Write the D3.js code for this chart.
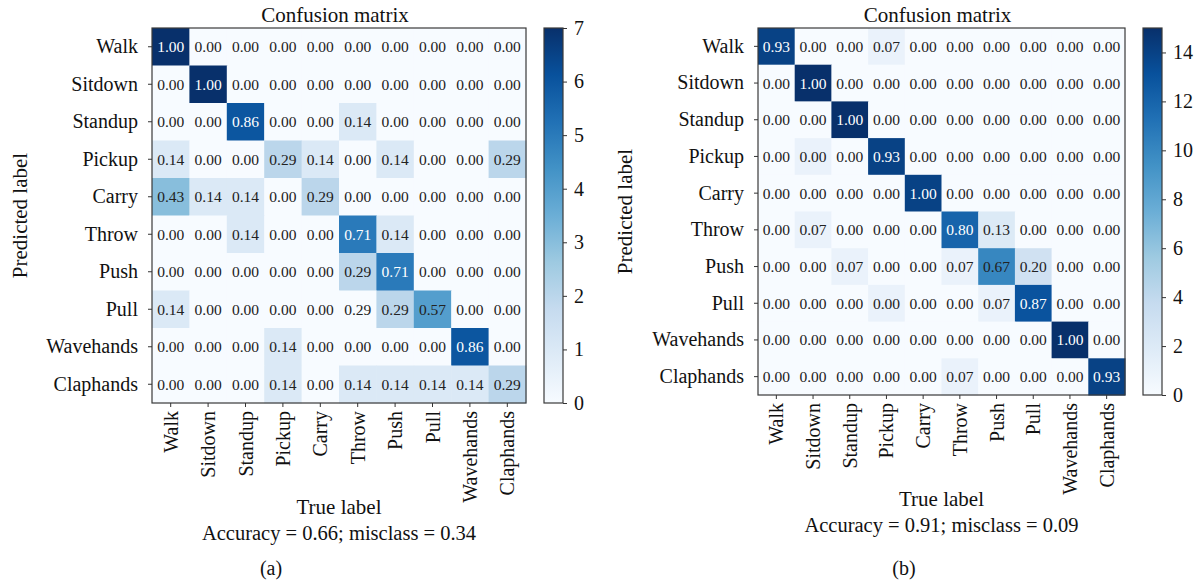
<!DOCTYPE html>
<html lang="en">
<head>
    <meta charset="UTF-8">
    <title>Confusion matrices</title>
    <script src="https://cdn.jsdelivr.net/npm/d3@7"></script>
    <style>
        body {
            margin: 0;
            background: #fff;
            font-family: "Liberation Serif", "DejaVu Serif", serif;
        }
    </style>
</head>
<body>
    <div id="chart"></div>

    <script>
        // class names (rows = predicted, columns = true)
        const classes = ["Walk", "Sitdown", "Standup", "Pickup", "Carry",
                         "Throw", "Push", "Pull", "Wavehands", "Claphands"];

        // (a) counts used for cell colour
        const countsA = [
            [7, 0, 0, 0, 0, 0, 0, 0, 0, 0],
            [0, 7, 0, 0, 0, 0, 0, 0, 0, 0],
            [0, 0, 6, 0, 0, 1, 0, 0, 0, 0],
            [1, 0, 0, 2, 1, 0, 1, 0, 0, 2],
            [3, 1, 1, 0, 2, 0, 0, 0, 0, 0],
            [0, 0, 1, 0, 0, 5, 1, 0, 0, 0],
            [0, 0, 0, 0, 0, 2, 5, 0, 0, 0],
            [1, 0, 0, 0, 0, 0, 2, 4, 0, 0],
            [0, 0, 0, 1, 0, 0, 0, 0, 6, 0],
            [0, 0, 0, 1, 0, 1, 1, 1, 1, 2]
        ];
        // (a) values printed in the cells
        const shownA = [
            [1.00, 0, 0, 0, 0, 0, 0, 0, 0, 0],
            [0, 1.00, 0, 0, 0, 0, 0, 0, 0, 0],
            [0, 0, 0.86, 0, 0, 0.14, 0, 0, 0, 0],
            [0.14, 0, 0, 0.29, 0.14, 0, 0.14, 0, 0, 0.29],
            [0.43, 0.14, 0.14, 0, 0.29, 0, 0, 0, 0, 0],
            [0, 0, 0.14, 0, 0, 0.71, 0.14, 0, 0, 0],
            [0, 0, 0, 0, 0, 0.29, 0.71, 0, 0, 0],
            [0.14, 0, 0, 0, 0, 0.29, 0.29, 0.57, 0, 0],
            [0, 0, 0, 0.14, 0, 0, 0, 0, 0.86, 0],
            [0, 0, 0, 0.14, 0, 0.14, 0.14, 0.14, 0.14, 0.29]
        ];
        const ticksA = [0, 1, 2, 3, 4, 5, 6, 7];
        const maxA = 7;

        // (b)
        const countsB = [
            [14, 0, 0, 1, 0, 0, 0, 0, 0, 0],
            [0, 15, 0, 0, 0, 0, 0, 0, 0, 0],
            [0, 0, 15, 0, 0, 0, 0, 0, 0, 0],
            [0, 1, 0, 14, 0, 0, 0, 0, 0, 0],
            [0, 0, 0, 0, 14, 0, 0, 0, 0, 0],
            [0, 1, 0, 0, 0, 12, 2, 0, 0, 0],
            [0, 0, 1, 0, 0, 1, 10, 3, 0, 0],
            [0, 0, 0, 1, 0, 0, 1, 13, 0, 0],
            [0, 0, 0, 0, 0, 0, 0, 0, 15, 0],
            [0, 0, 0, 0, 0, 1, 0, 0, 0, 14]
        ];
        const shownB = [
            [0.93, 0, 0, 0.07, 0, 0, 0, 0, 0, 0],
            [0, 1.00, 0, 0, 0, 0, 0, 0, 0, 0],
            [0, 0, 1.00, 0, 0, 0, 0, 0, 0, 0],
            [0, 0, 0, 0.93, 0, 0, 0, 0, 0, 0],
            [0, 0, 0, 0, 1.00, 0, 0, 0, 0, 0],
            [0, 0.07, 0, 0, 0, 0.80, 0.13, 0, 0, 0],
            [0, 0, 0.07, 0, 0, 0.07, 0.67, 0.20, 0, 0],
            [0, 0, 0, 0, 0, 0, 0.07, 0.87, 0, 0],
            [0, 0, 0, 0, 0, 0, 0, 0, 1.00, 0],
            [0, 0, 0, 0, 0, 0.07, 0, 0, 0, 0.93]
        ];
        const ticksB = [0, 2, 4, 6, 8, 10, 12, 14];
        const maxB = 15;

        const accuracyA = "Accuracy = 0.66; misclass = 0.34";
        const accuracyB = "Accuracy = 0.91; misclass = 0.09";

        const width = 1202;
        const height = 582;
        const blues = d3.schemeBlues[9];

        const svg = d3.select("#chart")
            .append("svg")
            .attr("width", width)
            .attr("height", height)
            .style("display", "block");

        svg.append("rect")
            .attr("width", width)
            .attr("height", height)
            .attr("fill", "#fff");

        // matplotlib-like "Blues": linear between the 9 brewer stops
        function blueScale(vmax) {
            return d3.scaleLinear()
                .domain(d3.range(9).map(i => vmax * i / 8))
                .range(blues)
                .interpolate(d3.interpolateRgb);
        }

        function drawPanel(opt) {
            const g = svg.append("g");
            const color = blueScale(opt.vmax);

            const x = d3.scaleBand().domain(classes).range([opt.left, opt.right]);
            const y = d3.scaleBand().domain(classes).range([opt.top, opt.bottom]);
            const cx = (opt.left + opt.right) / 2;
            const cy = (opt.top + opt.bottom) / 2;

            const cells = [];
            opt.counts.forEach((row, i) => row.forEach((c, j) => {
                cells.push({ row: classes[i], col: classes[j], count: c, shown: opt.shown[i][j] });
            }));

            g.selectAll("rect.cell")
                .data(cells)
                .enter()
                .append("rect")
                .attr("class", "cell")
                .attr("x", d => x(d.col))
                .attr("y", d => y(d.row))
                .attr("width", x.bandwidth() + 0.5)
                .attr("height", y.bandwidth() + 0.5)
                .attr("fill", d => color(d.count));

            g.selectAll("text.val")
                .data(cells)
                .enter()
                .append("text")
                .attr("class", "val")
                .attr("x", d => x(d.col) + x.bandwidth() / 2)
                .attr("y", d => y(d.row) + y.bandwidth() / 2)
                .attr("text-anchor", "middle")
                .attr("dominant-baseline", "central")
                .attr("font-size", 15.5)
                .attr("fill", d => d.count > opt.vmax / 1.5 ? "#fff" : "#222")
                .text(d => d.shown.toFixed(2));

            // frame
            g.append("rect")
                .attr("x", opt.left)
                .attr("y", opt.top)
                .attr("width", opt.right - opt.left)
                .attr("height", opt.bottom - opt.top)
                .attr("fill", "none")
                .attr("stroke", "#3a3a3a")
                .attr("stroke-width", 1.2);

            // y axis
            const yAxis = g.append("g")
                .attr("transform", `translate(${opt.left},0)`)
                .call(d3.axisLeft(y).tickSize(4).tickPadding(10));
            yAxis.select(".domain").remove();
            yAxis.selectAll("line").attr("stroke", "#333");
            yAxis.selectAll("text")
                .attr("font-size", 20)
                .attr("font-family", "Liberation Serif")
                .attr("fill", "#111");

            // x axis, labels vertical
            const xAxis = g.append("g")
                .attr("transform", `translate(0,${opt.bottom})`)
                .call(d3.axisBottom(x).tickSize(4).tickPadding(8));
            xAxis.select(".domain").remove();
            xAxis.selectAll("line").attr("stroke", "#333");
            xAxis.selectAll("text")
                .attr("font-size", 20)
                .attr("font-family", "Liberation Serif")
                .attr("fill", "#111")
                .attr("text-anchor", "end")
                .attr("dy", null)
                .attr("dominant-baseline", "central")
                .attr("transform", "rotate(-90)")
                .attr("x", -8)
                .attr("y", 0);

            // title and labels
            g.append("text")
                .attr("x", cx - 4)
                .attr("y", opt.top - 6)
                .attr("text-anchor", "middle")
                .attr("font-size", 21)
                .attr("fill", "#111")
                .text("Confusion matrix");

            g.append("text")
                .attr("transform", `translate(${opt.ylabelX},${cy}) rotate(-90)`)
                .attr("text-anchor", "middle")
                .attr("font-size", 21)
                .attr("fill", "#111")
                .text("Predicted label");

            g.append("text")
                .attr("x", cx)
                .attr("y", opt.bottom + 111)
                .attr("text-anchor", "middle")
                .attr("font-size", 21)
                .attr("fill", "#111")
                .text("True label");

            g.append("text")
                .attr("x", cx)
                .attr("y", opt.bottom + 137)
                .attr("text-anchor", "middle")
                .attr("font-size", 20.5)
                .attr("fill", "#111")
                .text(opt.accuracy);

            g.append("text")
                .attr("x", opt.captionX)
                .attr("y", 575)
                .attr("text-anchor", "middle")
                .attr("font-size", 20)
                .attr("fill", "#111")
                .text(opt.caption);

            // colorbar
            const gradId = "grad-" + opt.caption.replace(/\W/g, "");
            const grad = svg.append("defs")
                .append("linearGradient")
                .attr("id", gradId)
                .attr("x1", 0).attr("y1", 1)
                .attr("x2", 0).attr("y2", 0);
            grad.selectAll("stop")
                .data(blues)
                .enter()
                .append("stop")
                .attr("offset", (d, i) => i / 8)
                .attr("stop-color", d => d);

            g.append("rect")
                .attr("x", opt.cbX)
                .attr("y", opt.top)
                .attr("width", opt.cbW)
                .attr("height", opt.bottom - opt.top)
                .attr("fill", `url(#${gradId})`)
                .attr("stroke", "#3a3a3a")
                .attr("stroke-width", 1.2);

            const cbScale = d3.scaleLinear()
                .domain([0, opt.vmax])
                .range([opt.bottom, opt.top]);
            const cbAxis = g.append("g")
                .attr("transform", `translate(${opt.cbX + opt.cbW},0)`)
                .call(d3.axisRight(cbScale)
                    .tickValues(opt.ticks)
                    .tickFormat(d3.format("d"))
                    .tickSize(4)
                    .tickPadding(7));
            cbAxis.select(".domain").remove();
            cbAxis.selectAll("line").attr("stroke", "#333");
            cbAxis.selectAll("text")
                .attr("font-size", 20)
                .attr("font-family", "Liberation Serif")
                .attr("fill", "#111");
        }

        drawPanel({
            counts: countsA, shown: shownA, vmax: maxA, ticks: ticksA,
            left: 152, right: 526, top: 28, bottom: 403,
            cbX: 544, cbW: 19, ylabelX: 27, captionX: 271,
            accuracy: accuracyA, caption: "(a)"
        });

        drawPanel({
            counts: countsB, shown: shownB, vmax: maxB, ticks: ticksB,
            left: 758, right: 1125, top: 28, bottom: 395,
            cbX: 1143, cbW: 19, ylabelX: 632, captionX: 904,
            accuracy: accuracyB, caption: "(b)"
        });
    </script>
</body>
</html>
